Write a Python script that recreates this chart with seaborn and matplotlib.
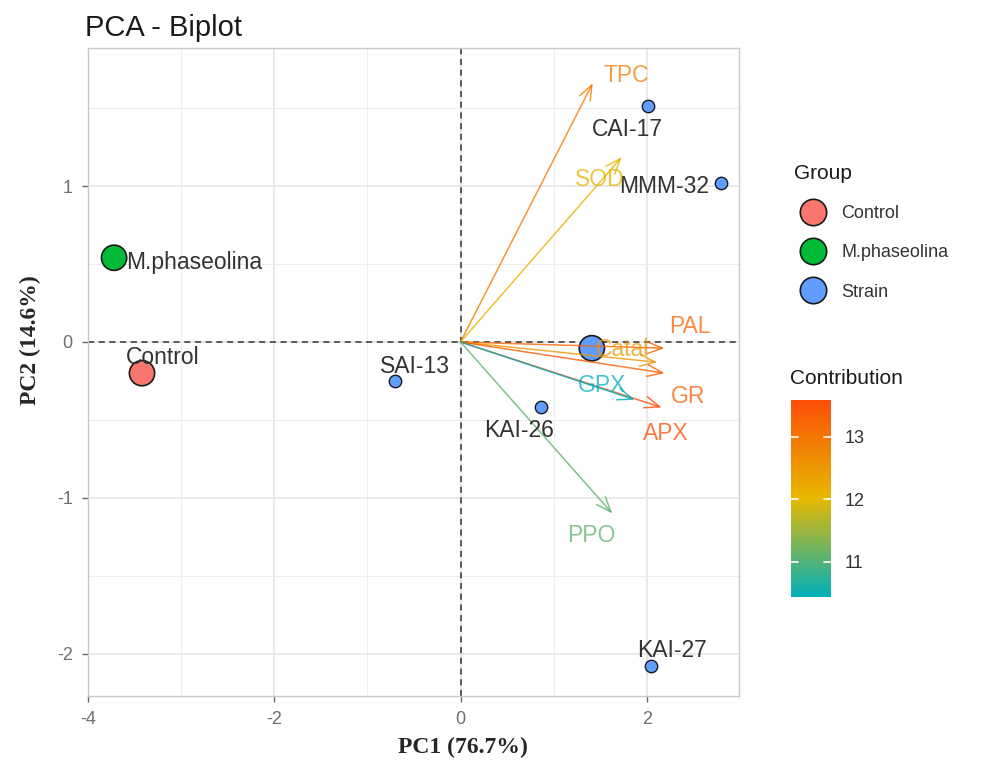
import numpy as np
import pandas as pd
import seaborn as sns
import matplotlib
matplotlib.use('Agg')
import matplotlib.pyplot as plt
from matplotlib.colors import LinearSegmentedColormap, Normalize
from matplotlib.lines import Line2D
import matplotlib.cm as cm

# individuals (strains)
ind_names = ['CAI-17', 'MMM-32', 'SAI-13', 'KAI-26', 'KAI-27']
ind_pc1 = [2.01, 2.80, -0.70, 0.86, 2.04]
ind_pc2 = [1.51, 1.02, -0.25, -0.42, -2.08]
ind_lab_x = [1.79, 2.19, -0.49, 0.63, 2.27]
ind_lab_y = [1.365, 1.00, -0.155, -0.57, -1.98]

# group mean points
grp_names = ['Control', 'M.phaseolina', 'Strain']
grp_pc1 = [-3.42, -3.72, 1.41]
grp_pc2 = [-0.20, 0.54, -0.04]
grp_lab_x = [-3.20, -2.86, None]
grp_lab_y = [-0.10, 0.51, None]
grp_colors = ['#F8766D', '#00BA38', '#619CFF']

# variables
var_names = ['TPC', 'SOD', 'PAL', 'Catal', 'GR', 'APX', 'GPX', 'PPO']
var_pc1 = [1.42, 1.73, 2.19, 2.11, 2.19, 2.16, 1.87, 1.63]
var_pc2 = [1.66, 1.185, -0.04, -0.13, -0.20, -0.42, -0.37, -1.10]
var_contrib = [12.9, 12.1, 13.25, 12.5, 13.35, 13.59, 10.44, 11.1]
var_lab_x = [1.78, 1.49, 2.46, 1.74, 2.44, 2.20, 1.52, 1.40]
var_lab_y = [1.71, 1.04, 0.097, -0.05, -0.35, -0.59, -0.28, -1.24]

cbar_ticks = [11, 12, 13]

sns.set_theme(style='whitegrid')
plt.rcParams['font.family'] = ['Liberation Sans', 'DejaVu Sans']
plt.rcParams['axes.unicode_minus'] = False

W, H = 984, 760
fig = plt.figure(figsize=(W / 100, H / 100), dpi=100)
ax = fig.add_axes([88 / W, 1 - 696 / H, (739 - 88) / W, (696 - 48) / H])

cmap = LinearSegmentedColormap.from_list('contrib', ['#00AFBB', '#E7B800', '#FC4E07'])
norm = Normalize(vmin=min(var_contrib), vmax=max(var_contrib))

ax.set_xlim(-4.0, 2.99)
ax.set_ylim(-2.27, 1.885)
ax.set_xticks([-4, -2, 0, 2])
ax.set_yticks([-2, -1, 0, 1])
ax.set_xticks([-3, -1, 1], minor=True)
ax.set_yticks([-1.5, -0.5, 0.5, 1.5], minor=True)
ax.grid(which='major', color='#E3E3E3', linewidth=1.1)
ax.grid(which='minor', color='#EDEDED', linewidth=0.8)
ax.set_facecolor('white')
for s in ax.spines.values():
    s.set_color('#C8C8C8')
    s.set_linewidth(1.0)
ax.tick_params(axis='both', which='major', length=4, color='#666666', width=1,
               labelsize=13, labelcolor='#707070', pad=7, bottom=True, left=True)
ax.tick_params(axis='both', which='minor', length=0)
ax.set_axisbelow(True)

ax.axhline(0, color='#333333', linestyle=(0, (4, 3)), linewidth=1.1, zorder=1)
ax.axvline(0, color='#333333', linestyle=(0, (4, 3)), linewidth=1.1, zorder=1)

# individual points
ind_df = pd.DataFrame({'PC1': ind_pc1, 'PC2': ind_pc2, 'name': ind_names})
sns.scatterplot(data=ind_df, x='PC1', y='PC2', ax=ax, color='#619CFF', s=80,
                edgecolor='#1a1a1a', linewidth=1.0, legend=False, zorder=4)
for i in range(len(ind_names)):
    ax.text(ind_lab_x[i], ind_lab_y[i], ind_names[i], fontsize=16.5, color='#333333',
            ha='center', va='center', zorder=6)

# group means
grp_df = pd.DataFrame({'PC1': grp_pc1, 'PC2': grp_pc2, 'Group': grp_names})
sns.scatterplot(data=grp_df, x='PC1', y='PC2', hue='Group', palette=grp_colors, ax=ax,
                s=330, edgecolor='#1a1a1a', linewidth=1.2, legend=False, zorder=3)
for i in range(len(grp_names)):
    if grp_lab_x[i] is not None:
        ax.text(grp_lab_x[i], grp_lab_y[i], grp_names[i], fontsize=16.5, color='#333333',
                ha='center', va='center', zorder=6)

# variable arrows
for i in range(len(var_names)):
    c = cmap(norm(var_contrib[i]))
    ax.annotate('', xy=(var_pc1[i], var_pc2[i]), xytext=(0, 0),
                arrowprops=dict(arrowstyle='->,head_length=0.9,head_width=0.35',
                                color=c, alpha=0.8, linewidth=1.1, shrinkA=0, shrinkB=0),
                zorder=5)
    ax.text(var_lab_x[i], var_lab_y[i], var_names[i], fontsize=16.5, color=c, alpha=0.75,
            ha='center', va='center', zorder=6)

ax.set_xlabel('')
ax.set_ylabel('')

fig.text(85 / W, 1 - 36 / H, 'PCA - Biplot', fontsize=21, color='#1a1a1a', va='baseline')
fig.text(463 / W, 1 - 747 / H, 'PC1 (76.7%)', fontsize=17, fontweight='bold',
         family=['Liberation Serif', 'DejaVu Serif'], ha='center', va='center')
fig.text(30 / W, 1 - 340 / H, 'PC2 (14.6%)', fontsize=17, fontweight='bold', rotation=90,
         family=['Liberation Serif', 'DejaVu Serif'], ha='center', va='center')

# group legend
handles = [Line2D([], [], marker='o', linestyle='', markersize=19, markerfacecolor=grp_colors[i],
                  markeredgecolor='#1a1a1a', markeredgewidth=1.2, label=grp_names[i])
           for i in range(len(grp_names))]
leg = fig.legend(handles=handles, title='Group', loc='upper left',
                 bbox_to_anchor=(780 / W, 1 - 150 / H), frameon=False, fontsize=13,
                 title_fontsize=15, labelspacing=1.22, handletextpad=0.6, borderpad=0.3)
leg._legend_box.align = 'left'
leg.get_title().set_color('#1a1a1a')
for t in leg.get_texts():
    t.set_color('#333333')

# contribution colour bar
fig.text(790 / W, 1 - 378 / H, 'Contribution', fontsize=15, color='#1a1a1a', va='center')
cax = fig.add_axes([791 / W, 1 - 597 / H, 40 / W, 197 / H])
sm = cm.ScalarMappable(norm=norm, cmap=cmap)
cb = fig.colorbar(sm, cax=cax, ticks=cbar_ticks)
cb.outline.set_visible(False)
cax.tick_params(length=0, labelsize=13, labelcolor='#333333', pad=10)
for t in cbar_ticks:
    cax.plot([0, 0.18], [t, t], color='white', linewidth=1.2, transform=cax.get_yaxis_transform())
    cax.plot([0.82, 1.0], [t, t], color='white', linewidth=1.2, transform=cax.get_yaxis_transform())

fig.savefig('out.png', dpi=100)
